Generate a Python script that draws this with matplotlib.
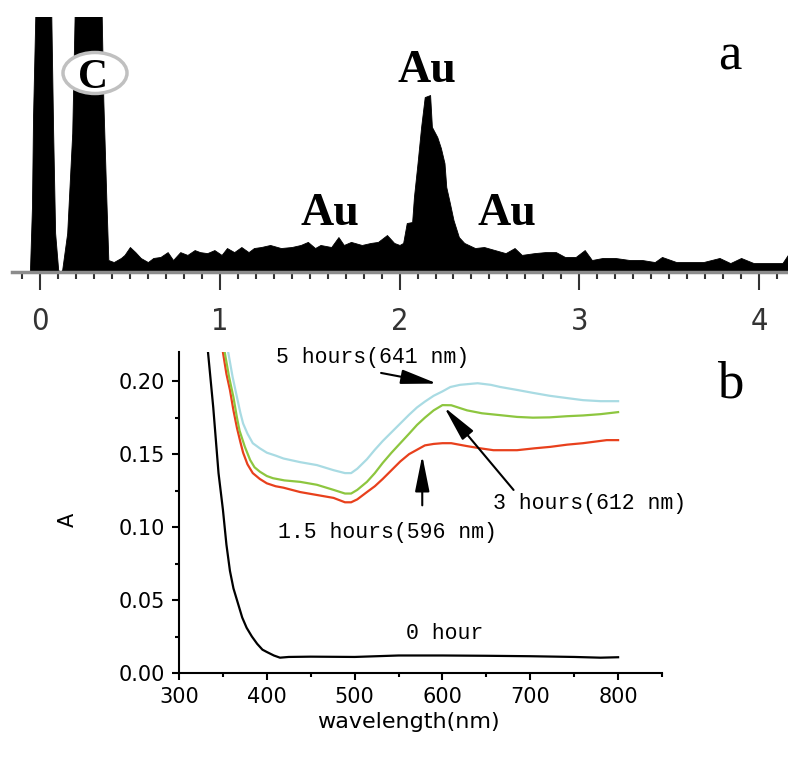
import matplotlib
matplotlib.use("Agg")
import matplotlib.pyplot as plt
from matplotlib.patches import Ellipse
from matplotlib.ticker import MultipleLocator

# ---- panel a: EDX spectrum (keV, counts) ----
edx_energy = [-0.16, -0.06, -0.056, -0.045, -0.039, -0.017, 0.056, 0.073, 0.084, 0.101,
              0.112, 0.123, 0.151, 0.179, 0.201, 0.335, 0.352, 0.369, 0.38, 0.41,
              0.45, 0.47, 0.50, 0.53, 0.56, 0.60, 0.63, 0.67, 0.71, 0.74,
              0.78, 0.82, 0.86, 0.89, 0.93, 0.97, 1.01, 1.04, 1.08, 1.12,
              1.16, 1.19, 1.23, 1.28, 1.34, 1.40, 1.45, 1.49, 1.53, 1.56,
              1.62, 1.66, 1.69, 1.73, 1.79, 1.84, 1.88, 1.93, 1.97, 2.00,
              2.02, 2.04, 2.07, 2.08, 2.10, 2.12, 2.14, 2.17, 2.18, 2.21,
              2.23, 2.25, 2.26, 2.28, 2.30, 2.33, 2.36, 2.42, 2.47, 2.53,
              2.59, 2.64, 2.68, 2.75, 2.81, 2.87, 2.92, 2.98, 3.03, 3.07,
              3.13, 3.20, 3.28, 3.35, 3.42, 3.46, 3.54, 3.61, 3.69, 3.78,
              3.84, 3.90, 3.97, 4.06, 4.13, 4.16, 4.20]
edx_counts = [0, 0, 8, 255, 608, 1300, 1300, 545, 153, 8,
              0, 8, 153, 545, 1300, 1300, 674, 282, 47, 39,
              55, 67, 98, 78, 55, 39, 55, 59, 78, 47,
              78, 67, 86, 78, 74, 86, 67, 94, 78, 98,
              78, 94, 98, 106, 94, 98, 106, 118, 94, 106,
              98, 137, 106, 118, 106, 114, 118, 145, 114, 106,
              114, 192, 196, 294, 427, 569, 686, 694, 569, 529,
              486, 427, 333, 270, 204, 137, 114, 94, 98, 86,
              74, 94, 67, 74, 78, 78, 59, 59, 86, 47,
              55, 55, 47, 47, 39, 59, 39, 39, 39, 55,
              35, 55, 35, 35, 35, 67, 67]
edx_ticks = [0, 1, 2, 3, 4]

# ---- panel b: UV-vis absorbance ----
wl_0h = [331, 333, 339, 345, 350, 354, 358, 362, 366, 372, 377, 383, 389, 395, 400,
         408, 415, 425, 450, 500, 550, 600, 650, 700, 750, 780, 800]
abs_0h = [0.23, 0.22, 0.182, 0.137, 0.112, 0.088, 0.070, 0.058, 0.050, 0.038, 0.031,
          0.025, 0.020, 0.016, 0.0144, 0.012, 0.0105, 0.011, 0.0112, 0.0110, 0.0120,
          0.0120, 0.0118, 0.0115, 0.0110, 0.0105, 0.0108]

wl_15h = [348, 350, 354, 358, 362, 366, 370, 373, 378, 384, 392, 400, 410, 419, 438,
          457, 476, 489, 496, 503, 514, 523, 532, 542, 552, 562, 571, 580, 590, 600,
          610, 628, 643, 658, 685, 705, 723, 742, 760, 787, 800]
abs_15h = [0.235, 0.22, 0.205, 0.194, 0.18, 0.168, 0.158, 0.151, 0.143, 0.137, 0.133,
           0.130, 0.128, 0.127, 0.124, 0.122, 0.120, 0.117, 0.117, 0.119, 0.124, 0.128,
           0.133, 0.139, 0.145, 0.150, 0.153, 0.156, 0.157, 0.1575, 0.1575, 0.1555,
           0.154, 0.1527, 0.1527, 0.154, 0.155, 0.1565, 0.1575, 0.1596, 0.1596]

wl_3h = [350, 352, 357, 362, 366, 369, 375, 381, 386, 392, 400, 407, 420, 438, 457,
         476, 489, 496, 503, 514, 523, 532, 542, 552, 562, 571, 580, 590, 600, 610,
         628, 645, 666, 685, 703, 722, 742, 760, 780, 800]
abs_3h = [0.235, 0.22, 0.203, 0.189, 0.175, 0.166, 0.155, 0.146, 0.141, 0.138, 0.135,
          0.1335, 0.132, 0.131, 0.129, 0.1255, 0.123, 0.123, 0.1255, 0.131, 0.137,
          0.144, 0.151, 0.1575, 0.164, 0.170, 0.175, 0.180, 0.1836, 0.1835, 0.180,
          0.178, 0.1767, 0.1755, 0.175, 0.1752, 0.176, 0.1765, 0.1774, 0.1788]

wl_5h = [354, 356, 361, 366, 370, 373, 378, 384, 392, 400, 410, 419, 438, 457, 476,
         489, 496, 503, 514, 523, 532, 542, 552, 562, 571, 580, 590, 600, 609, 620,
         640, 655, 666, 685, 703, 722, 742, 760, 780, 800]
abs_5h = [0.235, 0.22, 0.203, 0.189, 0.178, 0.171, 0.164, 0.1575, 0.154, 0.151, 0.149,
          0.147, 0.1445, 0.1425, 0.139, 0.137, 0.137, 0.140, 0.1465, 0.153, 0.159,
          0.165, 0.171, 0.177, 0.182, 0.186, 0.190, 0.193, 0.196, 0.1975, 0.1986,
          0.1975, 0.196, 0.194, 0.192, 0.190, 0.1884, 0.187, 0.1863, 0.1863]

W, H = 788, 765
fig = plt.figure(figsize=(W / 100, H / 100), dpi=100)


def px(x, y):
    # pixel position (from top-left) -> figure fraction
    return x / W, 1 - y / H


# ---------------- panel a ----------------
ax1 = fig.add_axes([12 / W, 1 - 272 / H, 776 / W, 255 / H])
ax1.fill_between(edx_energy, 0, edx_counts, color="black", lw=0.6, edgecolor="black")
ax1.set_xlim(-0.156, 4.161)
ax1.set_ylim(0, 1000)
for s in ["top", "right", "left"]:
    ax1.spines[s].set_visible(False)
ax1.spines["bottom"].set_color("#8c8c8c")
ax1.spines["bottom"].set_linewidth(2.5)
ax1.set_yticks([])
ax1.set_xticks(edx_ticks)
ax1.xaxis.set_minor_locator(MultipleLocator(0.1))
ax1.tick_params(axis="x", which="major", direction="out", length=13, width=1.5,
                color="#333333", pad=12)
ax1.tick_params(axis="x", which="minor", direction="out", length=5, width=1.5,
                color="#333333")
for lab in ax1.get_xticklabels():
    lab.set_family("DejaVu Sans")
    lab.set_stretch("condensed")
    lab.set_fontsize(22)
    lab.set_color("#333333")

serif_b = dict(family="Liberation Serif", fontweight="bold", color="black")
fig.text(*px(427, 82), "Au", ha="center", va="baseline", fontsize=33, **serif_b)
fig.text(*px(330, 225), "Au", ha="center", va="baseline", fontsize=33, **serif_b)
fig.text(*px(507, 225), "Au", ha="center", va="baseline", fontsize=33, **serif_b)
fig.text(*px(730, 70), "a", ha="center", va="baseline", fontsize=38,
         family="Liberation Serif", color="black")

ell = Ellipse(px(95, 73), 64 / W, 41 / H, transform=fig.transFigure,
              facecolor="white", edgecolor="#c0c0c0", lw=2.5, zorder=2)
fig.add_artist(ell)
fig.text(*px(93, 88), "C", ha="center", va="baseline", fontsize=30, zorder=3, **serif_b)

# ---------------- panel b ----------------
ax2 = fig.add_axes([179 / W, 1 - 673 / H, 483 / W, 321 / H])
ax2.plot(wl_0h, abs_0h, color="black", lw=1.6)
ax2.plot(wl_15h, abs_15h, color="#e8401c", lw=1.6)
ax2.plot(wl_3h, abs_3h, color="#8dc63f", lw=1.6)
ax2.plot(wl_5h, abs_5h, color="#a9dbe3", lw=1.6)
ax2.set_xlim(300, 850)
ax2.set_ylim(0, 0.22)
for s in ["top", "right"]:
    ax2.spines[s].set_visible(False)
for s in ["left", "bottom"]:
    ax2.spines[s].set_linewidth(1.5)
ax2.set_xticks([300, 400, 500, 600, 700, 800])
ax2.set_yticks([0.00, 0.05, 0.10, 0.15, 0.20])
ax2.set_yticklabels(["0.00", "0.05", "0.10", "0.15", "0.20"])
ax2.xaxis.set_minor_locator(MultipleLocator(50))
ax2.yaxis.set_minor_locator(MultipleLocator(0.025))
ax2.tick_params(which="major", direction="out", length=5, width=1.5, labelsize=15, pad=5)
ax2.tick_params(which="minor", direction="out", length=3, width=1.5)
ax2.set_xlabel("wavelength(nm)", fontsize=16)
ax2.xaxis.set_label_coords(0.474, -0.121)
ax2.set_ylabel("A", fontsize=15)
ax2.yaxis.set_label_coords(-0.21, 0.477)

mono = dict(family="Liberation Mono", fontsize=15.5, color="black")
arrow = dict(arrowstyle="-|>,head_length=0.85,head_width=0.17", color="black",
             lw=1.5, mutation_scale=26)
ax2.text(520, 0.2164, "5 hours(641 nm)", ha="center", va="center", **mono)
ax2.annotate("", xy=(597, 0.198), xytext=(527, 0.206), arrowprops=arrow)
ax2.text(768, 0.1164, "3 hours(612 nm)", ha="center", va="center", **mono)
ax2.annotate("", xy=(600, 0.1836), xytext=(683, 0.124), arrowprops=arrow)
ax2.text(537, 0.0966, "1.5 hours(596 nm)", ha="center", va="center", **mono)
ax2.annotate("", xy=(577, 0.151), xytext=(577, 0.113), arrowprops=arrow)
ax2.text(603, 0.027, "0 hour", ha="center", va="center", **mono)

fig.text(*px(730, 397), "b", ha="center", va="baseline", fontsize=38,
         family="Liberation Serif", color="black")

fig.savefig("out.png", dpi=100)
